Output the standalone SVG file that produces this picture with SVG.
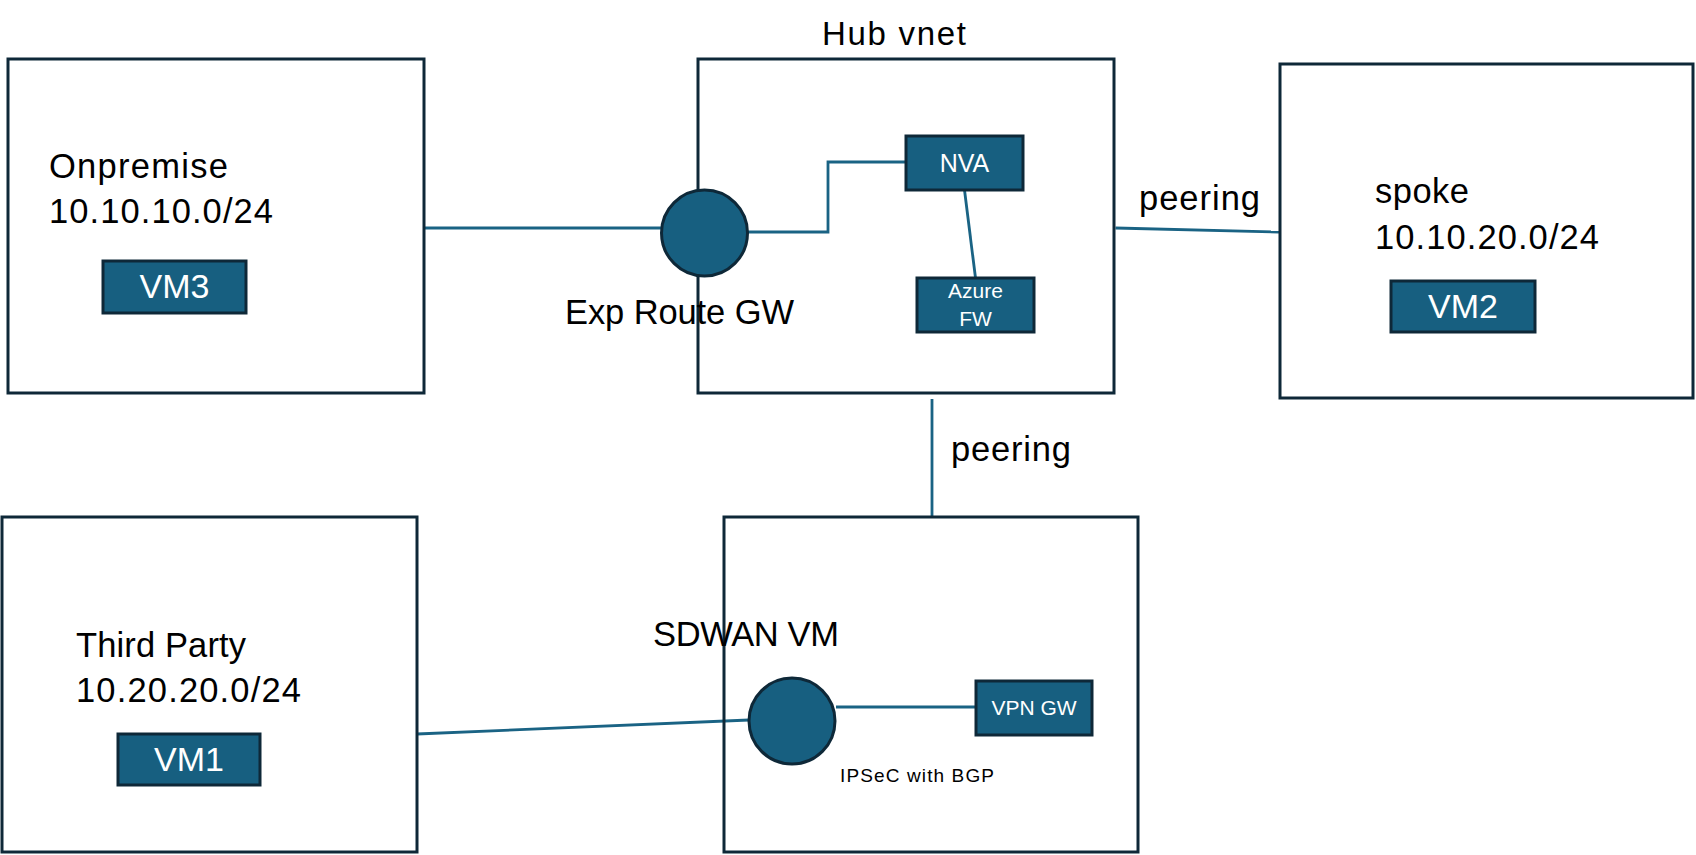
<svg xmlns="http://www.w3.org/2000/svg" width="1696" height="855" viewBox="0 0 1696 855">
<style>
.box{fill:none;stroke:#0e2838;stroke-width:3}
.vm{fill:#175f80;stroke:#0e2838;stroke-width:3}
.gw{fill:#175f80;stroke:#0e2838;stroke-width:3}
.conn{fill:none;stroke:#1a6384;stroke-width:2.8}
.lbl{font-family:"Liberation Sans",Arial,sans-serif;font-size:34.5px;fill:#000000}
.sm{font-family:"Liberation Sans",Arial,sans-serif;font-size:19px;fill:#000000}
.wt{font-family:"Liberation Sans",Arial,sans-serif;fill:#ffffff;text-anchor:middle}
</style>
<rect width="1696" height="855" fill="#ffffff"/>
<g id="connectors">
<line class="conn" x1="425" y1="228" x2="661" y2="228"/>
<polyline class="conn" points="748,232 828,232 828,162 906,162"/>
<line class="conn" x1="964.5" y1="190" x2="975.5" y2="278"/>
<line class="conn" x1="1115.5" y1="228" x2="1279" y2="232"/>
<line class="conn" x1="932" y1="399" x2="932" y2="517"/>
<line class="conn" x1="417" y1="734" x2="749" y2="720"/>
<line class="conn" x1="836" y1="707" x2="976" y2="707"/>
</g>
<g id="onpremise">
<rect class="box" x="8" y="59" width="416" height="334"/>
<text class="lbl" x="49" y="178" textLength="179">Onpremise</text>
<text class="lbl" x="49" y="223" textLength="224">10.10.10.0/24</text>
</g>
<g id="vm3">
<rect class="vm" x="103" y="261" width="143" height="52"/>
<text class="wt" x="174.5" y="298" style="font-size:34px">VM3</text>
</g>
<g id="hub">
<rect class="box" x="698" y="59" width="416" height="334"/>
<text class="lbl" x="822" y="45" style="font-size:33px" textLength="144">Hub vnet</text>
</g>
<g id="exp-route-gw">
<circle class="gw" cx="704.5" cy="233" r="43"/>
<text class="lbl" x="565" y="324" textLength="229">Exp Route GW</text>
</g>
<g id="nva">
<rect class="vm" x="906" y="136" width="117" height="54"/>
<text class="wt" x="964.5" y="172" style="font-size:25px">NVA</text>
</g>
<g id="azure-fw">
<rect class="vm" x="917" y="278" width="117" height="54"/>
<text class="wt" x="975.5" y="298" style="font-size:21px">Azure</text>
<text class="wt" x="975.5" y="326" style="font-size:21px">FW</text>
</g>
<g id="peering-spoke-label">
<text class="lbl" x="1139" y="210" textLength="121">peering</text>
</g>
<g id="spoke">
<rect class="box" x="1280" y="64" width="413" height="334"/>
<text class="lbl" x="1375" y="203" textLength="94">spoke</text>
<text class="lbl" x="1375" y="249" textLength="224">10.10.20.0/24</text>
</g>
<g id="vm2">
<rect class="vm" x="1391" y="281" width="144" height="51"/>
<text class="wt" x="1463" y="318" style="font-size:34px">VM2</text>
</g>
<g id="peering-sdwan-label">
<text class="lbl" x="951" y="461" textLength="120">peering</text>
</g>
<g id="third-party">
<rect class="box" x="2" y="517" width="415" height="335"/>
<text class="lbl" x="76" y="657" textLength="170">Third Party</text>
<text class="lbl" x="76" y="702" textLength="225">10.20.20.0/24</text>
</g>
<g id="vm1">
<rect class="vm" x="118" y="734" width="142" height="51"/>
<text class="wt" x="189" y="771" style="font-size:34px">VM1</text>
</g>
<g id="sdwan">
<rect class="box" x="724" y="517" width="414" height="335"/>
<text class="lbl" x="653" y="646" textLength="186">SDWAN VM</text>
</g>
<g id="sdwan-gw">
<circle class="gw" cx="792" cy="721" r="43"/>
<text class="sm" x="840" y="782" textLength="154">IPSeC with BGP</text>
</g>
<g id="vpn-gw">
<rect class="vm" x="976" y="681" width="116" height="54"/>
<text class="wt" x="1034" y="715" style="font-size:21px">VPN GW</text>
</g>
</svg>
